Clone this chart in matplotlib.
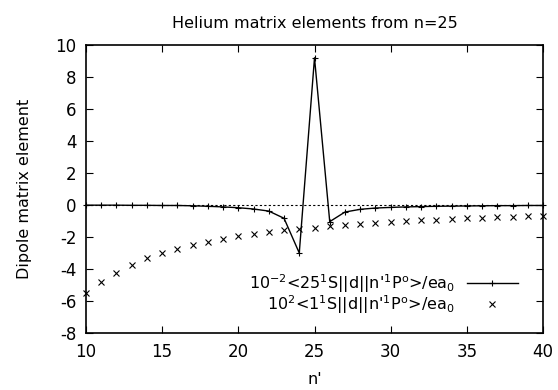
import matplotlib
matplotlib.use("Agg")
import matplotlib.pyplot as plt

plt.rcParams['font.family'] = ['DejaVu Sans']
plt.rcParams['mathtext.fontset'] = 'custom'
plt.rcParams['mathtext.rm'] = 'DejaVu Sans'
plt.rcParams['mathtext.it'] = 'DejaVu Sans'
plt.rcParams['mathtext.default'] = 'regular'
plt.rcParams['axes.unicode_minus'] = False

# n' values
n_prime = list(range(10, 41))

# 10^-2 <25 1S||d||n' 1P> / ea0
reduced_25 = [-0.01, -0.01, -0.01, -0.02, -0.02, -0.03, -0.03, -0.05, -0.08, -0.12,
              -0.17, -0.25, -0.38, -0.83, -3.0, 9.2, -1.04, -0.44, -0.27, -0.19,
              -0.15, -0.12, -0.1, -0.08, -0.07, -0.06, -0.05, -0.04, -0.04, -0.03,
              -0.03]

# 10^2 <1 1S||d||n' 1P> / ea0
reduced_1 = [-5.52, -4.81, -4.23, -3.73, -3.3, -3.02, -2.75, -2.5, -2.29, -2.13,
             -1.96, -1.81, -1.69, -1.58, -1.5, -1.42, -1.33, -1.25, -1.17, -1.1,
             -1.04, -1.0, -0.96, -0.92, -0.88, -0.83, -0.81, -0.77, -0.75, -0.71,
             -0.69]

fig = plt.figure(figsize=(5.58, 3.9), dpi=100)
ax = fig.add_axes([86 / 558, 1 - 333 / 390, (543 - 86) / 558, (333 - 45) / 390])

ax.axhline(0, color='black', linestyle=(0, (2, 2)), linewidth=0.8, zorder=1)

label1 = r"10$^{-2}$<25$^1$S||d||n'$^1$P$^o$>/ea$_0$"
label2 = r"10$^2$<1$^1$S||d||n'$^1$P$^o$>/ea$_0$"
ax.plot(n_prime, reduced_25, color='black', linewidth=1.0, marker='+',
        markersize=5, markeredgewidth=0.8, label=label1, clip_on=False, zorder=3)
ax.plot(n_prime, reduced_1, color='black', linestyle='none', marker='x',
        markersize=4, markeredgewidth=0.8, label=label2, clip_on=False, zorder=3)

ax.set_xlim(10, 40)
ax.set_ylim(-8, 10)
ax.set_xticks(range(10, 41, 5))
ax.set_yticks(range(-8, 11, 2))
ax.tick_params(direction='in', top=True, right=True, length=5, width=0.8,
               labelsize=12, pad=7)
for s in ax.spines.values():
    s.set_linewidth(1.2)

ax.set_title('Helium matrix elements from n=25', fontsize=11.5, pad=12)
ax.set_xlabel("n'", fontsize=11.5, labelpad=8)
ax.set_ylabel('Dipole matrix element', fontsize=11.5, labelpad=17)

leg = ax.legend(loc='lower right', bbox_to_anchor=(0.945, 0.06), frameon=False,
                markerfirst=False, fontsize=11.5, handlelength=3.2,
                handletextpad=0.75, labelspacing=-0.12, borderaxespad=0,
                borderpad=0)
for t in leg.get_texts():
    t.set_ha('right')

fig.savefig('out.png', dpi=100)
